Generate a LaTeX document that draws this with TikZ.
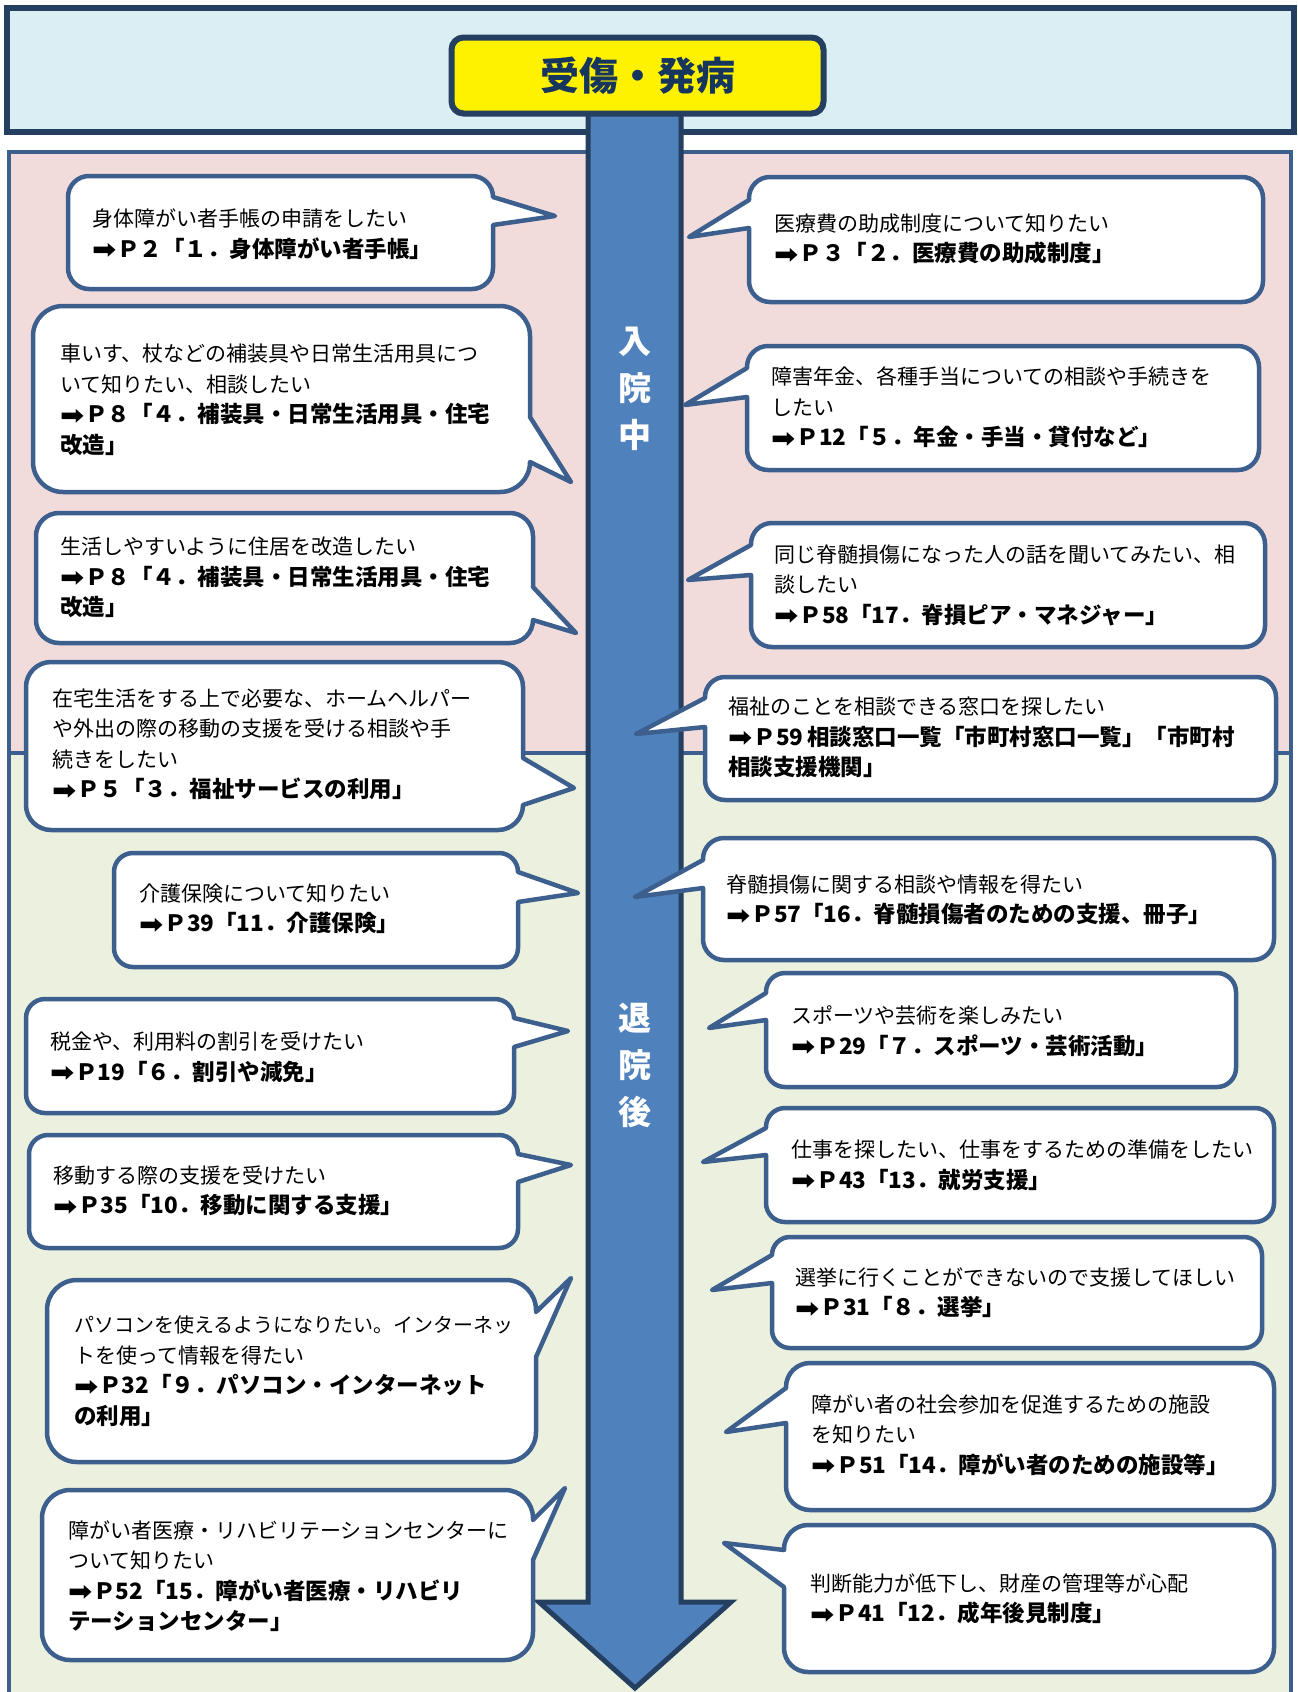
\documentclass[tikz,border=0pt]{standalone}
\usepackage{graphicx}
\usepackage{fontspec}
\setmainfont{Noto Sans CJK JP}
\newfontfamily\symf{DejaVu Sans}
\definecolor{topfill}{HTML}{DBEEF4}
\definecolor{darkb}{HTML}{243F60}
\definecolor{bubline}{HTML}{3C5F8E}
\definecolor{pinkbg}{HTML}{F2DCDB}
\definecolor{greenbg}{HTML}{EBF1DE}
\definecolor{arrowfill}{HTML}{4F81BD}
\definecolor{titletxt}{HTML}{17365D}
\newcommand\fa{\fontsize{21}{30.5}\selectfont}
\newcommand\fb{\fontsize{22.5}{30.5}\selectfont\bfseries}
\newcommand\arr{\raisebox{-1.5pt}{\scalebox{1.45}[1.3]{\symf\fontsize{20}{30.5}\selectfont ➡}}\kern1pt}
% pointer on right side: x1 y1 x2 y2 pa pb tipx tipy r
\newcommand\bubL[9]{%
\draw[bub] ({#1+#9},#2) -- ({#3-#9},#2) .. controls ({#3-0.448*#9},#2) and (#3,{#2+0.448*#9}) .. (#3,{#2+#9}) -- (#3,#5) -- (#7,#8) -- (#3,#6) -- (#3,{#4-#9}) .. controls (#3,{#4-0.448*#9}) and ({#3-0.448*#9},#4) .. ({#3-#9},#4) -- ({#1+#9},#4) .. controls ({#1+0.448*#9},#4) and (#1,{#4-0.448*#9}) .. (#1,{#4-#9}) -- (#1,{#2+#9}) .. controls (#1,{#2+0.448*#9}) and ({#1+0.448*#9},#2) .. ({#1+#9},#2) -- cycle;}
% pointer on left side
\newcommand\bubR[9]{%
\draw[bub] ({#1+#9},#2) -- ({#3-#9},#2) .. controls ({#3-0.448*#9},#2) and (#3,{#2+0.448*#9}) .. (#3,{#2+#9}) -- (#3,{#4-#9}) .. controls (#3,{#4-0.448*#9}) and ({#3-0.448*#9},#4) .. ({#3-#9},#4) -- ({#1+#9},#4) .. controls ({#1+0.448*#9},#4) and (#1,{#4-0.448*#9}) .. (#1,{#4-#9}) -- (#1,#6) -- (#7,#8) -- (#1,#5) -- (#1,{#2+#9}) .. controls (#1,{#2+0.448*#9}) and ({#1+0.448*#9},#2) .. ({#1+#9},#2) -- cycle;}
\begin{document}
\begin{tikzpicture}[x=1pt,y=-1pt,
  bub/.style={draw=bubline,line width=4.5pt,fill=white,line join=round},
  txt/.style={anchor=west,align=left,inner sep=0pt,font=\fa,text=black},
  side/.style={align=center,inner sep=0pt,text=white,font=\fontsize{33}{47}\selectfont\bfseries},
  band/.style={draw=darkb,line width=6pt,fill=topfill},
  frame/.style={draw=bubline,line width=4pt},
  shaft/.style={draw=darkb,line width=5pt,fill=arrowfill,line join=miter},
  titlebox/.style={draw=darkb,line width=6pt,fill=yellow,rounded corners=12pt,minimum width=372pt,minimum height=76pt,inner sep=0pt,text=titletxt,font=\fontsize{39}{40}\selectfont\bfseries}]
\useasboundingbox (0,0) rectangle (1298,1692);
\fill[white] (0,0) rectangle (1298,1692);
\draw[band] (7,8) rectangle (1294,132);
\fill[pinkbg] (9,152) rectangle (1291,753);
\fill[greenbg] (9,753) rectangle (1291,1700);
\draw[frame] (9,1700) -- (9,152) -- (1291,152) -- (1291,1700);
\draw[frame] (9,753) -- (1291,753);
\draw[shaft] (588,110) -- (588,1602) -- (539,1602) -- (635,1688) -- (731,1602) -- (681,1602) -- (681,110) -- cycle;
\node[titlebox] (title) at (637.5,75.5) {受傷・発病};
\node[side] (nyuin) at (635,389) {入\\院\\中};
\node[side] (taiin) at (635,1065) {退\\院\\後};
% left bubbles
\bubL{68}{176}{493}{289}{197}{225}{555}{216}{21}
\node[txt] (L1) at (92,234) {身体障がい者手帳の申請をしたい\\\fb\arr Ｐ２「１．身体障がい者手帳」};
\bubL{33}{306}{530}{492}{417}{462}{571}{482}{30}
\node[txt] (L2) at (60,400) {車いす、杖などの補装具や日常生活用具につ\\いて知りたい、相談したい\\\fb\arr Ｐ８「４．補装具・日常生活用具・住宅\\\fb 改造」};
\bubL{36}{513}{533}{643}{587}{620}{576}{633}{23}
\node[txt] (L3) at (60,577.5) {生活しやすいように住居を改造したい\\\fb\arr Ｐ８「４．補装具・日常生活用具・住宅\\\fb 改造」};
\bubL{26}{662}{523}{830}{758}{805}{574}{788}{25}
\node[txt] (L4) at (52,744.5) {在宅生活をする上で必要な、ホームヘルパー\\や外出の際の移動の支援を受ける相談や手\\続きをしたい\\\fb\arr Ｐ５「３．福祉サービスの利用」};
\bubL{114}{853}{518}{967}{872}{902}{578}{893}{19}
\node[txt] (L5) at (139,909) {介護保険について知りたい\\\fb\arr Ｐ39「11．介護保険」};
\bubL{26}{999}{514}{1113}{1018}{1047}{568}{1031}{19}
\node[txt] (L6) at (50,1057) {税金や、利用料の割引を受けたい\\\fb\arr Ｐ19「６．割引や減免」};
\bubL{29}{1135}{518}{1248}{1154}{1182}{571}{1165}{19}
\node[txt] (L7) at (53,1191) {移動する際の支援を受けたい\\\fb\arr Ｐ35「10．移動に関する支援」};
\bubL{47}{1280}{536}{1462}{1312}{1357}{571}{1278}{30}
\node[txt] (L8) at (74,1371) {\fontsize{20}{30.5}\selectfont パソコンを使えるようになりたい。インターネッ\\トを使って情報を得たい\\\fb\arr Ｐ32「９．パソコン・インターネット\\\fb の利用」};
\bubL{42}{1490}{533}{1660}{1520}{1560}{565}{1488}{28}
\node[txt] (L9) at (68,1576) {障がい者医療・リハビリテーションセンターに\\ついて知りたい\\\fb\arr Ｐ52「15．障がい者医療・リハビリ\\\fb テーションセンター」};
% right bubbles
\bubR{749}{177}{1263}{302}{200}{228}{689}{237}{21}
\node[txt] (R1) at (774,239) {医療費の助成制度について知りたい\\\fb\arr Ｐ３「２．医療費の助成制度」};
\bubR{747}{346}{1259}{470}{368}{397}{685}{405}{21}
\node[txt] (R2) at (771,407.5) {障害年金、各種手当についての相談や手続きを\\したい\\\fb\arr Ｐ12「５．年金・手当・貸付など」};
\bubR{751}{523}{1265}{647}{545}{575}{688}{580}{21}
\node[txt] (R3) at (774,585) {同じ脊髄損傷になった人の話を聞いてみたい、相\\談したい\\\fb\arr Ｐ58「17．脊損ピア・マネジャー」};
\bubR{705}{677}{1276}{800}{698}{727}{636}{734}{20}
\node[txt] (R4) at (728,737.5) {福祉のことを相談できる窓口を探したい\\\fb\arr Ｐ59\,相談窓口一覧「市町村窓口一覧」「市町村\\\fb 相談支援機関」};
\bubR{703}{838}{1274}{960}{860}{888}{635}{897}{21}
\node[txt] (R5) at (726,900) {脊髄損傷に関する相談や情報を得たい\\\fb\arr Ｐ57「16．脊髄損傷者のための支援、冊子」};
\bubR{766}{973}{1236}{1087}{993}{1020}{709}{1028}{19}
\node[txt] (R6) at (791,1031) {スポーツや芸術を楽しみたい\\\fb\arr Ｐ29「７．スポーツ・芸術活動」};
\bubR{766}{1108}{1274}{1222}{1128}{1155}{703}{1162}{19}
\node[txt] (R7) at (791,1165) {仕事を探したい、仕事をするための準備をしたい\\\fb\arr Ｐ43「13．就労支援」};
\bubR{772}{1237}{1262}{1348}{1255}{1283}{712}{1290}{18}
\node[txt] (R8) at (795,1292.5) {選挙に行くことができないので支援してほしい\\\fb\arr Ｐ31「８．選挙」};
\bubR{786}{1363}{1274}{1510}{1388}{1423}{726}{1432}{24}
\node[txt] (R9) at (811,1435) {障がい者の社会参加を促進するための施設\\を知りたい\\\fb\arr Ｐ51「14．障がい者のための施設等」};
\bubR{784}{1525}{1274}{1672}{1550}{1587}{724}{1543}{24}
\node[txt] (R10) at (810,1599) {判断能力が低下し、財産の管理等が心配\\\fb\arr Ｐ41「12．成年後見制度」};
\end{tikzpicture}
\end{document}
